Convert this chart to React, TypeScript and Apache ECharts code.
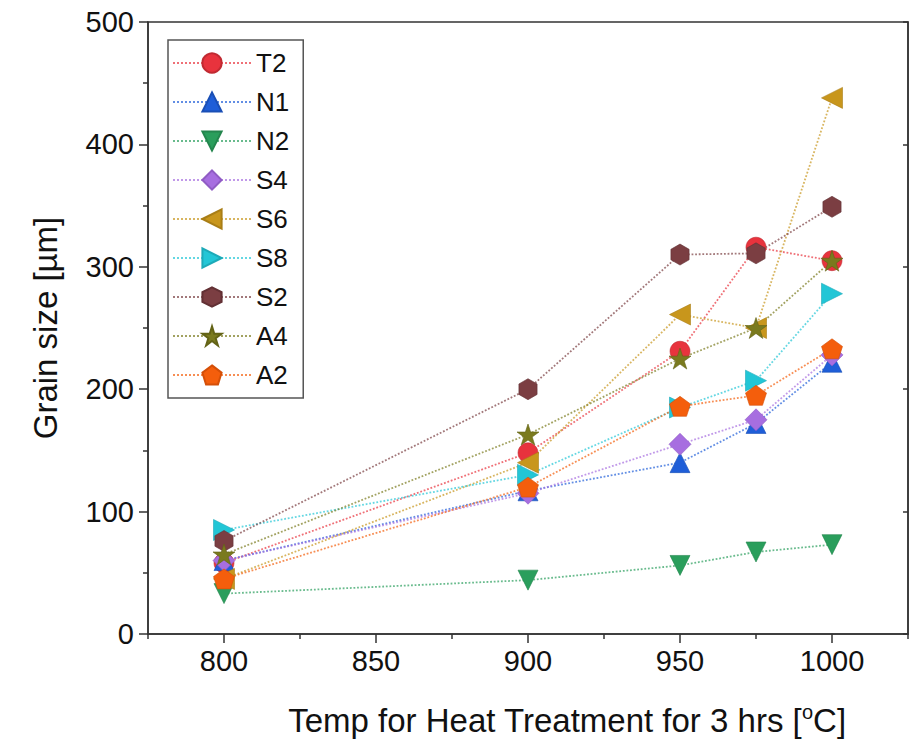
import React, { useEffect, useRef } from "react";
import * as echarts from "echarts";

const temps = [800, 900, 950, 975, 1000];
const seriesNames = ["T2", "N1", "N2", "S4", "S6", "S8", "S2", "A4", "A2"];
const T2 = [58, 148, 231, 316, 305];
const N1 = [60, 117, 140, 172, 222];
const N2 = [33, 44, 56, 67, 73];
const S4 = [60, 115, 155, 175, 228];
const S6 = [45, 140, 261, 250, 438];
const S8 = [85, 130, 185, 207, 278];
const S2 = [76, 200, 310, 311, 349];
const A4 = [65, 163, 225, 250, 305];
const A2 = [45, 120, 186, 195, 233];
const xMajorTicks = [800, 850, 900, 950, 1000];
const xMinorTicks = [775, 825, 875, 925, 975, 1025];

const STAR = "path://M0,-1 L0.225,-0.309 L0.951,-0.309 L0.363,0.118 L0.588,0.809 L0,0.382 L-0.588,0.809 L-0.363,0.118 L-0.951,-0.309 L-0.225,-0.309 Z";
const PENT = "path://M0,-1 L0.951,-0.309 L0.588,0.809 L-0.588,0.809 L-0.951,-0.309 Z";
const HEX = "path://M0,-1 L0.866,-0.5 L0.866,0.5 L0,1 L-0.866,0.5 L-0.866,-0.5 Z";

const styles = [
  { data: T2, color: "#e8333d", border: "#c02a32", symbol: "circle", rotate: 0, size: 20 },
  { data: N1, color: "#1f5ed8", border: "#1a4fb5", symbol: "triangle", rotate: 0, size: 20 },
  { data: N2, color: "#2a9e5c", border: "#24864e", symbol: "triangle", rotate: 180, size: 20 },
  { data: S4, color: "#a76ee0", border: "#905cc4", symbol: "diamond", rotate: 0, size: 22 },
  { data: S6, color: "#c8961c", border: "#a97e16", symbol: "triangle", rotate: 90, size: 21 },
  { data: S8, color: "#22c6d6", border: "#1daab8", symbol: "triangle", rotate: -90, size: 21 },
  { data: S2, color: "#7b3e42", border: "#623034", symbol: HEX, rotate: 0, size: 21 },
  { data: A4, color: "#7a7a1e", border: "#636316", symbol: STAR, rotate: 0, size: 22 },
  { data: A2, color: "#f45e0c", border: "#d44f08", symbol: PENT, rotate: 0, size: 21 },
];

const FONT = "Liberation Sans, Arial, sans-serif";

export default function App() {
  const ref = useRef<HTMLDivElement>(null);
  useEffect(() => {
    if (!ref.current) return;
    const chart = echarts.init(ref.current, undefined, { renderer: "svg" });
    const series = styles.map((s, i) => ({
      name: seriesNames[i],
      type: "line",
      data: temps.map((t, j) => [t, s.data[j]]),
      symbol: s.symbol,
      symbolSize: s.size,
      symbolRotate: s.rotate,
      symbolKeepAspect: true,
      xAxisIndex: 0,
      yAxisIndex: 0,
      lineStyle: { color: s.color, type: "dotted", width: 1.8, opacity: 0.7 },
      itemStyle: { color: s.color, borderColor: s.border, borderWidth: 0.6 },
      emphasis: { disabled: true },
    }));
    chart.setOption({
      animation: false,
      backgroundColor: "#ffffff",
      textStyle: { fontFamily: FONT },
      grid: {
        left: 148,
        right: 7,
        top: 22,
        bottom: 117,
        show: true,
        borderColor: "#333",
        borderWidth: 1.5,
        backgroundColor: "transparent",
      },
      legend: {
        orient: "vertical",
        left: 168,
        top: 40,
        padding: [10, 14, 10, 4],
        itemWidth: 78,
        itemHeight: 24,
        itemGap: 13,
        borderColor: "#555",
        borderWidth: 1.5,
        backgroundColor: "#fff",
        textStyle: { fontSize: 26, color: "#111", fontFamily: FONT },
        data: seriesNames,
      },
      xAxis: [
        {
          type: "value",
          min: 775,
          max: 1025,
          position: "bottom",
          axisLine: { show: true, lineStyle: { color: "#333", width: 1.5 } },
          axisTick: { show: true, customValues: xMajorTicks, length: 9, lineStyle: { color: "#333", width: 1.5 } },
          axisLabel: {
            customValues: xMajorTicks,
            fontSize: 29,
            color: "#111",
            margin: 12,
            fontFamily: FONT,
            formatter: (v: number) => String(v),
          },
          splitLine: { show: false },
          name: "{a|Temp for Heat Treatment for 3 hrs [}{s|o}{a|C]}",
          nameLocation: "middle",
          nameGap: 68,
          nameTextStyle: {
            rich: {
              a: { fontSize: 33, color: "#111", fontFamily: FONT },
              s: { fontSize: 20, color: "#111", fontFamily: FONT, verticalAlign: "top", padding: [0, 0, 16, 0] },
            },
            padding: [0, 0, 0, 78],
          },
        },
        {
          type: "value",
          min: 775,
          max: 1025,
          position: "bottom",
          axisLine: { show: false },
          axisTick: { show: true, customValues: xMinorTicks, length: 5, lineStyle: { color: "#333", width: 1.5 } },
          axisLabel: { show: false },
          splitLine: { show: false },
        },
      ],
      yAxis: [
        {
          type: "value",
          min: 0,
          max: 500,
          interval: 100,
          axisLine: { show: true, lineStyle: { color: "#333", width: 1.5 } },
          axisTick: { show: true, length: 9, lineStyle: { color: "#333", width: 1.5 } },
          minorTick: { show: true, splitNumber: 2, length: 5, lineStyle: { color: "#333", width: 1.5 } },
          axisLabel: { fontSize: 29, color: "#111", margin: 14, fontFamily: FONT },
          splitLine: { show: false },
          name: "Grain size [µm]",
          nameLocation: "middle",
          nameGap: 86,
          nameTextStyle: { fontSize: 33, color: "#111", fontFamily: FONT },
        },
        {
          type: "value",
          min: 0,
          max: 500,
          interval: 100,
          position: "right",
          axisLine: { show: true, lineStyle: { color: "#333", width: 1.5 } },
          axisTick: { show: true, inside: true, length: 5, lineStyle: { color: "#333", width: 1.5 } },
          axisLabel: { show: false },
          splitLine: { show: false },
        },
      ],
      series,
    });
    return () => chart.dispose();
  }, []);
  return <div ref={ref} style={{ width: 915, height: 751, position: "absolute", left: 0, top: 0 }} />;
}
